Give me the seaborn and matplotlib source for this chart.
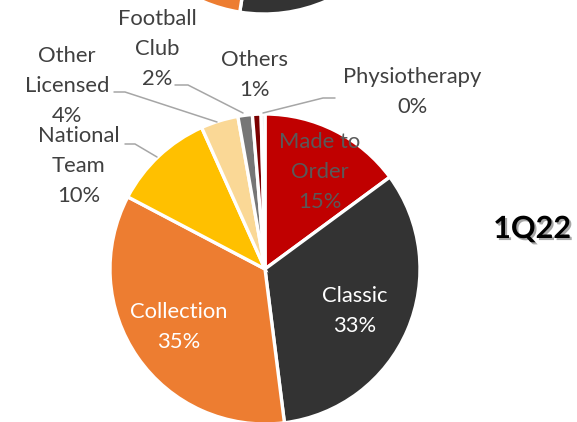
"""Product mix pie for 1Q22 (Excel-style pie with leader lines)."""
import matplotlib
matplotlib.use("Agg")
import matplotlib.pyplot as plt
import matplotlib.patheffects as pe
import seaborn as sns

# --- data ---
categories = ["Made to Order", "Classic", "Collection", "National Team",
              "Other Licensed", "Football Club", "Others", "Physiotherapy"]
share_1q22 = [14.9, 33.1, 34.7, 10.6, 3.9, 1.5, 0.9, 0.4]
pct_labels = ["15%", "33%", "35%", "10%", "4%", "2%", "1%", "0%"]
# previous quarter pie, only its bottom edge is visible at the top
share_prev = [16.0, 36.5, 31.0, 10.0, 4.0, 1.5, 1.0, 0.0]
quarter = "1Q22"

colors = ["#C00000", "#333333", "#ED7D31", "#FFC000",
          "#FAD896", "#767676", "#7B0000", "#E0E0E0"]

W, H = 577, 422


def py(y):
    # image pixel row -> data y (axis runs bottom-up)
    return H - y


sns.set_theme(style="white")
plt.rcParams["font.family"] = ["Lato", "DejaVu Sans"]

fig = plt.figure(figsize=(W / 100, H / 100), dpi=100)
ax = fig.add_axes([0, 0, 1, 1])

wedge_kw = dict(edgecolor="white", linewidth=2.4)
ax.pie(share_prev, colors=colors, startangle=90, counterclock=False,
       center=(264, py(-141)), radius=155, wedgeprops=wedge_kw)
ax.pie(share_1q22, colors=colors, startangle=90, counterclock=False,
       center=(265, py(269)), radius=155, wedgeprops=wedge_kw)

ax.set_xlim(0, W)
ax.set_ylim(0, H)
ax.set_aspect("equal")
ax.axis("off")

txt_kw = dict(ha="center", va="center", fontsize=15.8, linespacing=1.6)
label_text = {
    "Made to Order": "Made to\nOrder",
    "National Team": "National\nTeam",
    "Other Licensed": "Other\nLicensed",
    "Football Club": "Football\nClub",
}
# label anchor (image pixels) and text colour
label_pos = {
    "Made to Order": (320, 172, "#595959"),
    "Classic": (355, 311, "white"),
    "Collection": (179, 327, "white"),
    "National Team": (79, 166, "#404040"),
    "Other Licensed": (67, 86, "#404040"),
    "Football Club": (157, 49, "#404040"),
    "Others": (254, 75, "#404040"),
    "Physiotherapy": (412, 92, "#404040"),
}
for name, pct in zip(categories, pct_labels):
    x, y, c = label_pos[name]
    ax.text(x, py(y), f"{label_text.get(name, name)}\n{pct}", color=c, **txt_kw)

# leader lines
leaders = [
    [(125, 144), (135, 144), (157, 157)],
    [(114, 92), (125, 92), (217, 122)],
    [(175, 85), (188, 85), (243, 113)],
    [(335, 98), (323, 98), (263, 113)],
]
for pts in leaders:
    xs = [p[0] for p in pts]
    ys = [py(p[1]) for p in pts]
    ax.plot(xs, ys, color="#A6A6A6", lw=1.1, solid_joinstyle="miter")

ax.text(532, py(229), quarter, ha="center", va="center", fontsize=22,
        fontweight="bold", color="black",
        path_effects=[pe.SimplePatchShadow(offset=(1.5, -1.5), alpha=0.35),
                      pe.Normal()])

fig.savefig("out.png", dpi=100)
